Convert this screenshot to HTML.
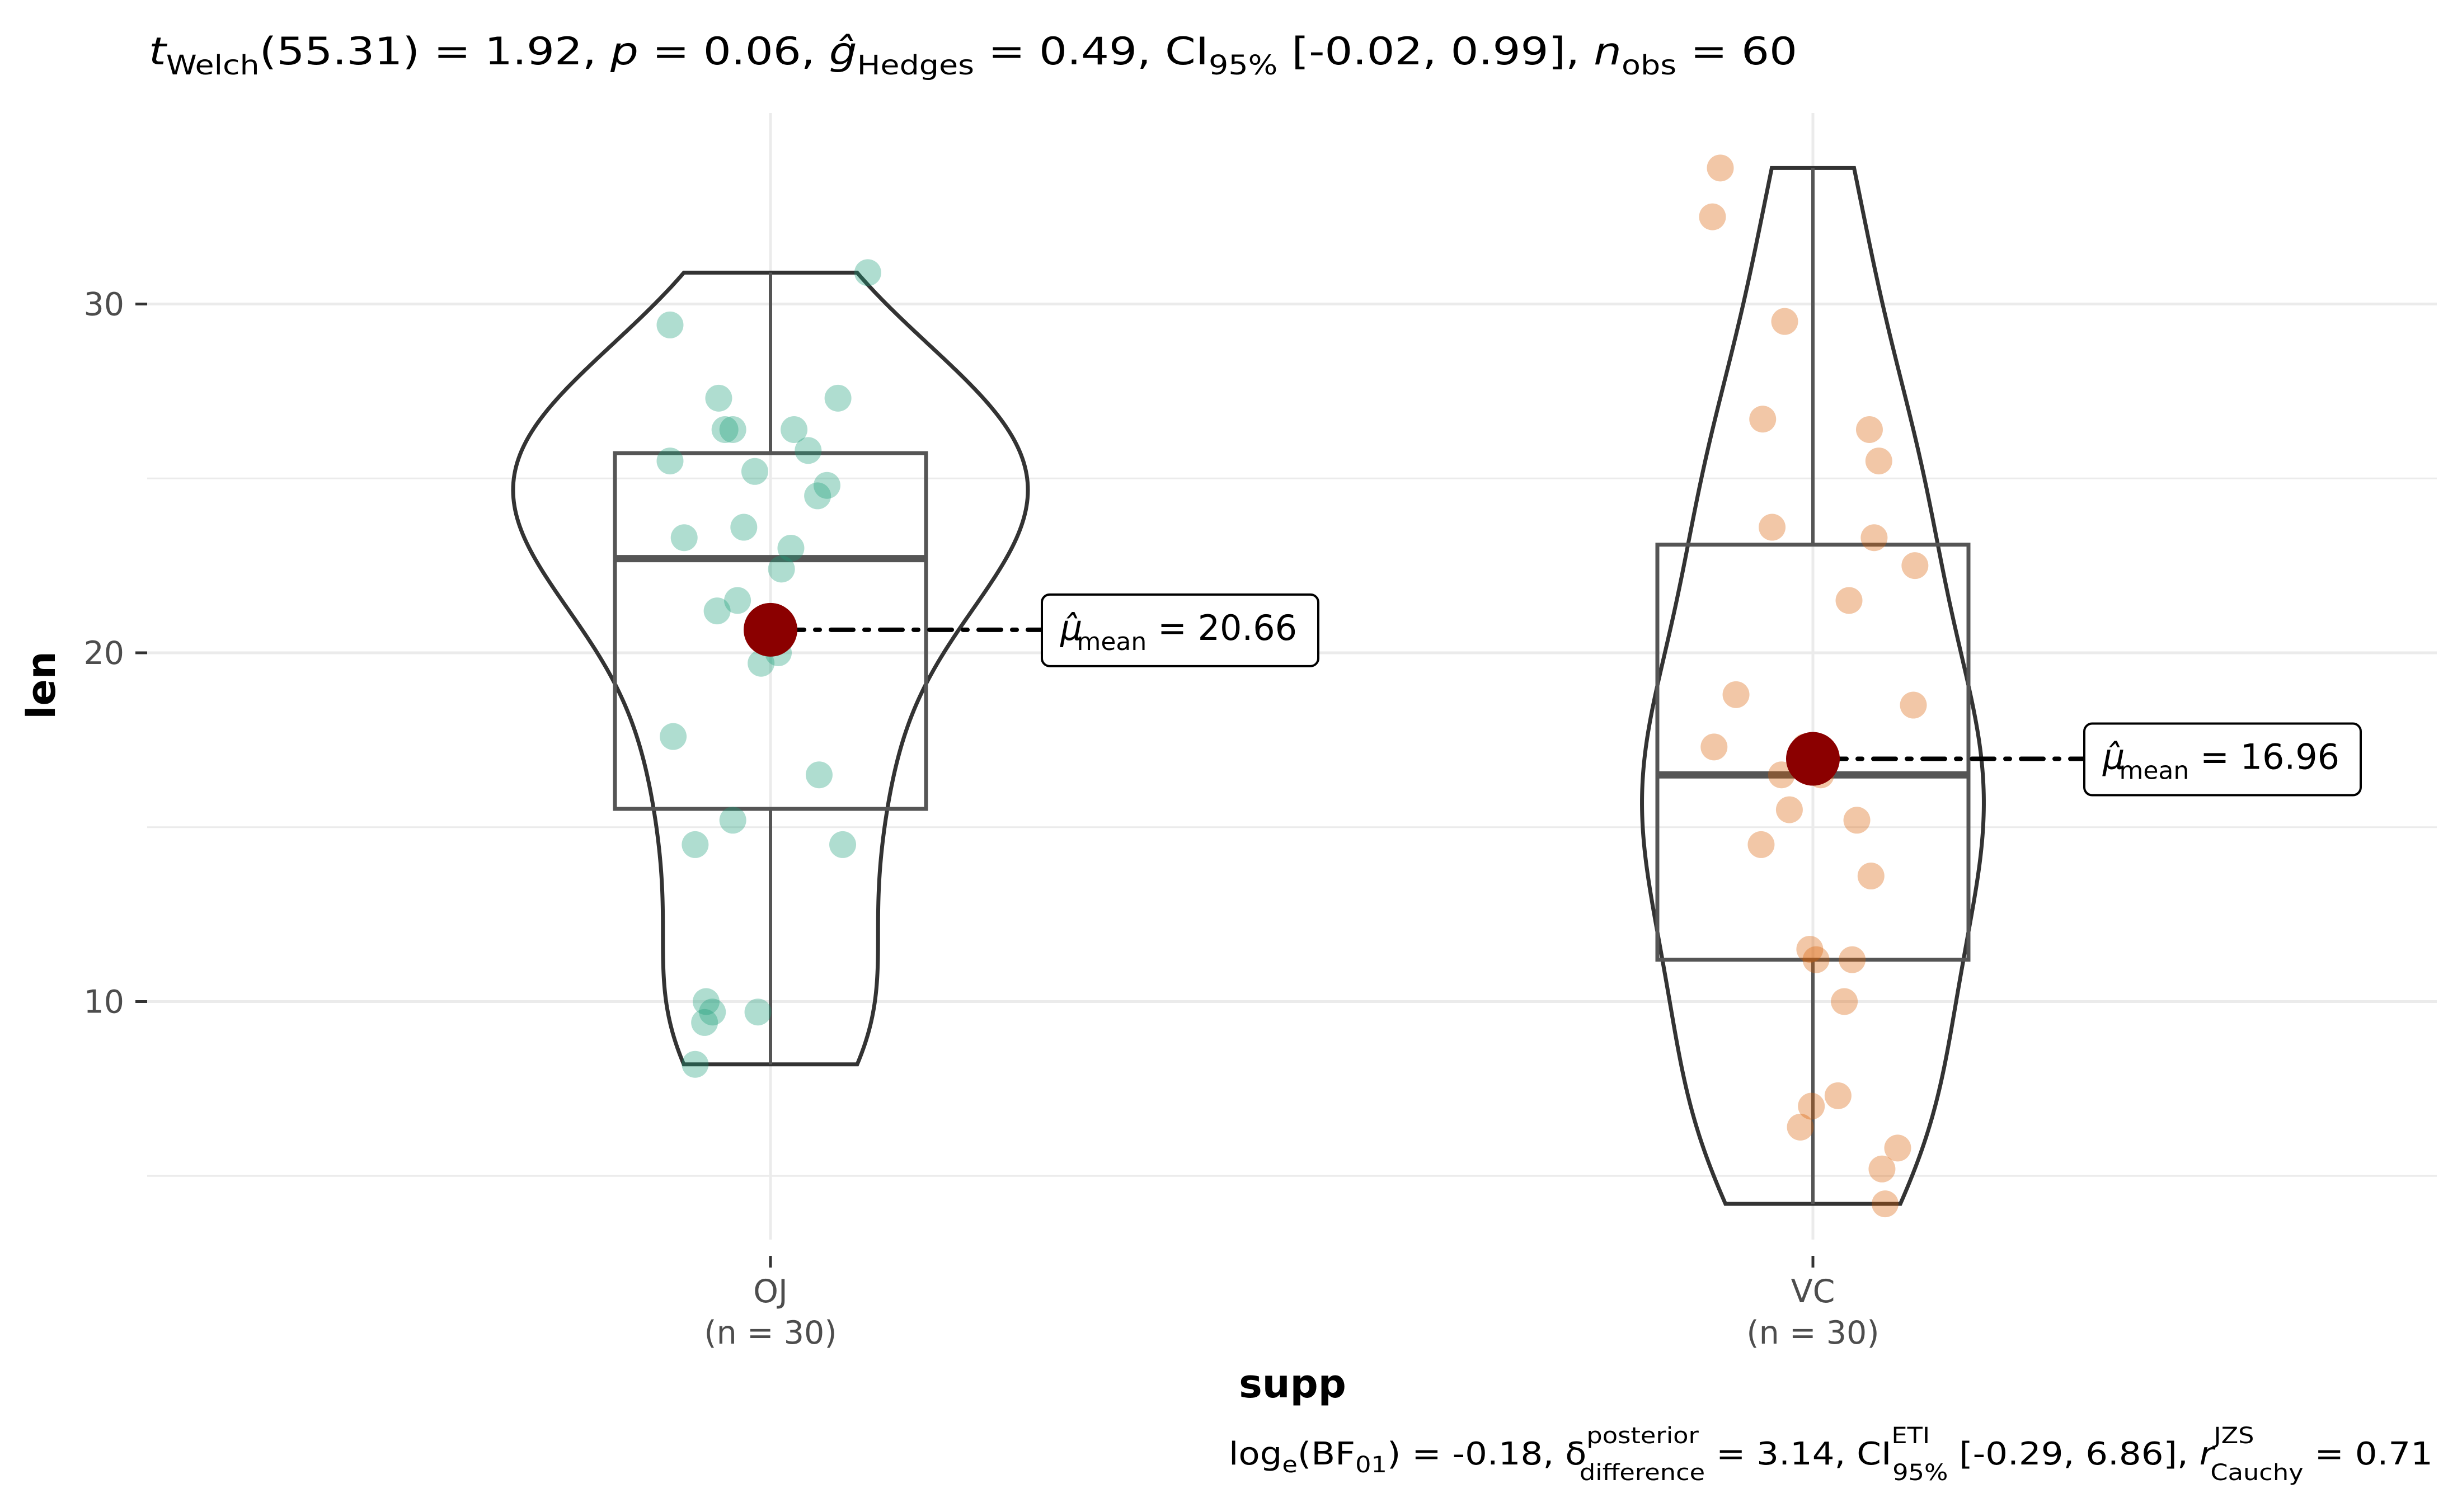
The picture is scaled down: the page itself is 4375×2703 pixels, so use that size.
<!DOCTYPE html>
<html><head><meta charset="utf-8"><style>
html,body{margin:0;padding:0;background:#fff;}
svg{display:block;font-family:"DejaVu Sans","Liberation Sans",sans-serif;}
</style></head><body>
<svg id="chart" width="4375" height="2703" viewBox="0 0 4375 2703" xmlns="http://www.w3.org/2000/svg">
<rect width="4375" height="2703" fill="#fff"/>
<g id="grid"></g>
<g id="plot"></g>
<g id="axes"></g>
<text x="266" y="115" font-size="68" fill="#000" textLength="2946" lengthAdjust="spacingAndGlyphs"><tspan font-style="italic">t</tspan><tspan font-size="48" dy="18">Welch</tspan><tspan dy="-18">(55.31) = 1.92, </tspan><tspan font-style="italic">p</tspan><tspan> = 0.06, </tspan><tspan font-style="italic">ĝ</tspan><tspan font-size="48" dy="18">Hedges</tspan><tspan dy="-18"> = 0.49, CI</tspan><tspan font-size="48" dy="18">95%</tspan><tspan dy="-18"> [-0.02, 0.99], </tspan><tspan font-style="italic">n</tspan><tspan font-size="48" dy="18">obs</tspan><tspan dy="-18"> = 60</tspan></text>
<text transform="translate(98,1225) rotate(-90)" text-anchor="middle" font-size="70" font-weight="bold" fill="#000">len</text>
<text x="2310" y="2498" text-anchor="middle" font-size="70" font-weight="bold" fill="#000">supp</text>
<text x="2196" y="2618" font-size="56" fill="#000" textLength="2152" lengthAdjust="spacingAndGlyphs">log<tspan font-size="40" dy="14">e</tspan><tspan dy="-14">(BF</tspan><tspan font-size="40" dy="14">01</tspan><tspan dy="-14">) = -0.18, δ</tspan><tspan font-size="40" dy="-38">posterior</tspan><tspan font-size="40" dx="-190" dy="66">difference</tspan><tspan dy="-28"> = 3.14, CI</tspan><tspan font-size="40" dy="-38">ETI</tspan><tspan font-size="40" dx="-60" dy="66">95%</tspan><tspan dy="-28"> [-0.29, 6.86], </tspan><tspan font-style="italic">r</tspan><tspan font-size="40" dy="-38">JZS</tspan><tspan font-size="40" dx="-70" dy="66">Cauchy</tspan><tspan dy="-28"> = 0.71</tspan></text>
<script>
const categories = ["OJ","VC"];
const counts = [30,30];
const ojValues = [15.2,21.5,17.6,9.7,14.5,10,8.2,9.4,16.5,9.7,19.7,23.3,23.6,26.4,20,25.2,25.8,21.2,14.5,27.3,25.5,26.4,22.4,24.5,24.8,30.9,26.4,27.3,29.4,23];
const ojJitter = [-24,-21,-62,-8,-48,-41,-48,-42,31,-37,-6,-55,-17,-29,5,-10,24,-34,46,-33,-64,-24,7,30,36,62,15,43,-64,13];
const vcValues = [4.2,11.5,7.3,5.8,6.4,10,11.2,11.2,5.2,7,16.5,16.5,15.2,17.3,22.5,17.3,13.6,14.5,18.8,15.5,23.6,18.5,33.9,25.5,26.4,32.5,26.7,21.5,23.3,29.5];
const vcJitter = [46,-2,16,54,-8,20,2,25,44,-1,-20,5,28,-63,65,-5,37,-33,-49,-15,-26,64,-59,42,36,-64,-32,23,39,-18];
const means = [20.66,16.96];
const medians = [22.7,16.5];
const q1s = [15.525,11.2];
const q3s = [25.725,23.1];
const mins = [8.2,4.2];
const maxs = [30.9,33.9];
const yTicks = [10,20,30];
const yMinor = [5,15,25];

const NS="http://www.w3.org/2000/svg";
const catX = i => 1377 + i*(3240-1377);
const yS = v => 1167 - (v-20)*62.35;
function mk(tag, attrs, parent){const e=document.createElementNS(NS,tag);for(const k in attrs)e.setAttribute(k,attrs[k]);parent.appendChild(e);return e;}
const grid=document.getElementById('grid'), plot=document.getElementById('plot'), axes=document.getElementById('axes');
yMinor.forEach(v=>{const l=mk('line',{x1:263,x2:4355,y1:yS(v),y2:yS(v),stroke:'#ebebeb','stroke-width':3},grid);

});
yTicks.forEach(v=>{const l=mk('line',{x1:263,x2:4355,y1:yS(v),y2:yS(v),stroke:'#ebebeb','stroke-width':5},grid);


const t=mk('line',{x1:242,x2:263,y1:yS(v),y2:yS(v),stroke:'#333','stroke-width':5},axes);


const tx=mk('text',{x:222,y:yS(v)+20,'text-anchor':'end','font-size':57,fill:'#4d4d4d'},axes);tx.textContent=v;

});
categories.forEach((c,i)=>{const x=catX(i);
const l=mk('line',{x1:x,x2:x,y1:202,y2:2216,stroke:'#ebebeb','stroke-width':5},grid);


const t=mk('line',{x1:x,x2:x,y1:2245,y2:2266,stroke:'#333','stroke-width':5},axes);


const a=mk('text',{x:x,y:2328,'text-anchor':'middle','font-size':57,fill:'#4d4d4d'},axes);a.textContent=c;


const b=mk('text',{x:x,y:2402,'text-anchor':'middle','font-size':57,fill:'#4d4d4d'},axes);b.textContent='(n = '+counts[i]+')';

});

const groups=[ojValues,vcValues], jit=[ojJitter,vcJitter], cols=['#1b9e77','#d95f02'];
function sd(a){const m=a.reduce((s,v)=>s+v,0)/a.length;return Math.sqrt(a.reduce((s,v)=>s+(v-m)*(v-m),0)/(a.length-1));}
function quant(a,p){const s=[...a].sort((x,y)=>x-y);const h=(s.length-1)*p;const lo=Math.floor(h);return s[lo]+(h-lo)*((s[Math.ceil(h)]||s[lo])-s[lo]);}
function dens(a){const bw=0.9*Math.min(sd(a),(quant(a,.75)-quant(a,.25))/1.34)*Math.pow(a.length,-0.2);
const lo=Math.min(...a),hi=Math.max(...a),pts=[];for(let k=0;k<=200;k++){const y=lo+(hi-lo)*k/200;let d=0;a.forEach(v=>{const z=(y-v)/bw;d+=Math.exp(-z*z/2);});pts.push([y,d/(a.length*bw*Math.sqrt(2*Math.PI))]);}return pts;}
const dd=groups.map(dens);
const dmax=Math.max(...dd.map(p=>Math.max(...p.map(q=>q[1]))));
groups.forEach((g,i)=>{const x=catX(i);const p=dd[i];
let s='';p.forEach((q,k)=>{s+=(k?'L':'M')+(x+q[1]/dmax*460)+','+yS(q[0]);});
for(let k=p.length-1;k>=0;k--)s+='L'+(x-p[k][1]/dmax*460)+','+yS(p[k][0]);s+='Z';
const v=mk('path',{d:s,fill:'none',stroke:'#333','stroke-width':7},plot);


const w=mk('line',{x1:x,x2:x,y1:yS(maxs[i]),y2:yS(q3s[i]),stroke:'#555','stroke-width':6},plot);


const w2=mk('line',{x1:x,x2:x,y1:yS(q1s[i]),y2:yS(mins[i]),stroke:'#555','stroke-width':6},plot);


const bx=mk('rect',{x:x-278,y:yS(q3s[i]),width:556,height:yS(q1s[i])-yS(q3s[i]),fill:'none',stroke:'#555','stroke-width':7},plot);


const ml=mk('line',{x1:x-278,x2:x+278,y1:yS(medians[i]),y2:yS(medians[i]),stroke:'#555','stroke-width':13},plot);


g.forEach((v,k)=>{const c=mk('circle',{cx:x+jit[i][k]*2.805,cy:yS(v),r:24,fill:cols[i],'fill-opacity':0.35},plot);

});
});
means.forEach((m,i)=>{const x=catX(i);const y=yS(m);
const lx=x+488;
const dl=mk('line',{x1:x+20,x2:lx,y1:y,y2:y,stroke:'#000','stroke-width':8,'stroke-dasharray':'40 20 8 20','stroke-linecap':'round'},plot);


const c=mk('circle',{cx:x,cy:y,r:48,fill:'#8b0000'},plot);


const r=mk('rect',{x:lx-3,y:y-63,width:494,height:128,rx:14,fill:'#fff',stroke:'#000','stroke-width':4},plot);


const t=mk('text',{x:lx+30,y:y+18,'font-size':62,fill:'#000'},plot);


const s1=mk('tspan',{'font-style':'italic'},t);s1.textContent='μ̂';
const s2=mk('tspan',{'font-size':44,dx:-10,dy:18},t);s2.textContent='mean';
const s3=mk('tspan',{dy:-18},t);s3.textContent=' = '+m.toFixed(2);
});
</script>
</svg>
</body></html>
